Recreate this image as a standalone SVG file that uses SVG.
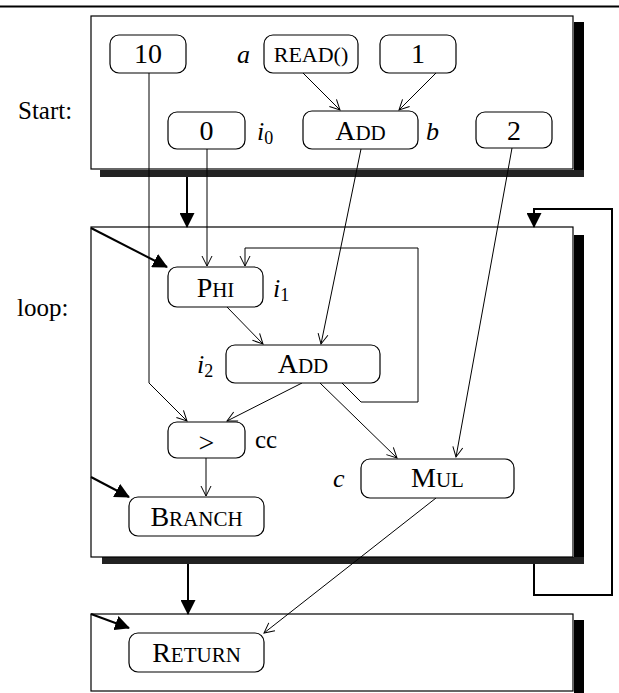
<svg xmlns="http://www.w3.org/2000/svg" width="619" height="693" viewBox="0 0 619 693">
<style>
  text { font-family: "Liberation Serif", "Times New Roman", serif; fill: #000; }
  .blk { fill: #fff; stroke: #000; stroke-width: 1.2; }
  .shR { fill: #000; }
  .shB { fill: #222; }
  .node rect { fill: #fff; stroke: #000; stroke-width: 1.2; }
  .nt { font-size: 28px; text-anchor: middle; }
  .big { font-size: 28px; }
  .sm { font-size: 21px; }
  .lab { font-size: 26px; font-style: italic; }
  .sub { font-size: 18px; font-style: normal; }
  .blab { font-size: 25px; }
  .e { fill: none; stroke: #000; stroke-width: 1; marker-end: url(#open); }
  .c { fill: none; stroke: #000; stroke-width: 2; marker-end: url(#fill); }
</style>
<defs>
  <marker id="open" markerUnits="userSpaceOnUse" viewBox="0 0 12 12" refX="11" refY="6" markerWidth="12" markerHeight="12" orient="auto">
    <path d="M1,1 L11,6 L1,11" fill="none" stroke="#000" stroke-width="1"/>
  </marker>
  <marker id="fill" markerUnits="userSpaceOnUse" viewBox="0 0 15 15" refX="14" refY="7.5" markerWidth="15" markerHeight="15" orient="auto">
    <path d="M0,0 L15,7.5 L0,15 z" fill="#000"/>
  </marker>
</defs>
<rect width="619" height="693" fill="#fff"/>
<line x1="0" y1="6.5" x2="619" y2="6.5" stroke="#000" stroke-width="1.8"/>

<g id="block-start">
  <rect class="shR" x="574" y="22" width="10" height="155"/>
  <rect class="shB" x="100" y="170" width="484" height="7"/>
  <rect class="blk" x="91" y="16" width="482" height="153"/>
  <text class="blab" x="18" y="119">Start:</text>
</g>
<g id="block-loop">
  <rect class="shR" x="574" y="235" width="10" height="329"/>
  <rect class="shB" x="102" y="557" width="482" height="7"/>
  <rect class="blk" x="91" y="227" width="482" height="330"/>
  <text class="blab" x="17" y="316">loop:</text>
</g>
<g id="block-return">
  <rect class="shR" x="574" y="620" width="10" height="73"/>
  <rect class="blk" x="91" y="614" width="482" height="77"/>
</g>

<g id="connectors">
  <path class="e" d="M303,73 L340,110"/>
  <path class="e" d="M436,73 L399,110"/>
  <path class="e" d="M149,73 L149,383 L187,421"/>
  <path class="e" d="M207,149 L207,266"/>
  <path class="e" d="M361,149 L321,344"/>
  <path class="e" d="M512,148 L456,457"/>
  <path class="e" d="M227,307 L263,344"/>
  <path class="e" d="M342,383 L361,402 L418,402 L418,248 L245,248 L245,266"/>
  <path class="e" d="M302,383 L227,421"/>
  <path class="e" d="M320,383 L397,458"/>
  <path class="e" d="M206,458 L206,496"/>
  <path class="e" d="M436,498 L264,633"/>
  <path class="c" d="M187,177 L187,227"/>
  <path class="c" d="M91,228 L167,267"/>
  <path class="c" d="M91,477 L129,497"/>
  <path class="c" d="M188,564 L188,614"/>
  <path class="c" d="M91,614 L129,628"/>
  <path class="c" d="M534,564 L534,595 L612,595 L612,209 L534,209 L534,227"/>
</g>

<g id="n10" class="node"><rect x="110" y="35" width="76" height="38" rx="9"/><text class="nt" x="148" y="63">10</text></g>
<g id="nread" class="node"><rect x="264" y="35" width="94" height="38" rx="9"/><text class="nt" x="311" y="62" style="font-size:22px">READ()</text></g>
<g id="n1" class="node"><rect x="380" y="35" width="76" height="38" rx="9"/><text class="nt" x="418" y="63">1</text></g>
<g id="n0" class="node"><rect x="168" y="112" width="77" height="37" rx="9"/><text class="nt" x="206.5" y="140">0</text></g>
<g id="nadd1" class="node"><rect x="303" y="111" width="115" height="38" rx="9"/><text class="nt" x="360.5" y="140"><tspan class="big">A</tspan><tspan class="sm">DD</tspan></text></g>
<g id="n2" class="node"><rect x="476" y="112" width="76" height="36" rx="9"/><text class="nt" x="514" y="140">2</text></g>
<g id="nphi" class="node"><rect x="168" y="267" width="95" height="40" rx="9"/><text class="nt" x="215.5" y="297"><tspan class="big">P</tspan><tspan class="sm">HI</tspan></text></g>
<g id="nadd2" class="node"><rect x="226" y="345" width="154" height="38" rx="9"/><text class="nt" x="303" y="373"><tspan class="big">A</tspan><tspan class="sm">DD</tspan></text></g>
<g id="ngt" class="node"><rect x="168" y="422" width="77" height="36" rx="9"/><text class="nt" x="206.5" y="452">&gt;</text></g>
<g id="nmul" class="node"><rect x="361" y="459" width="153" height="39" rx="9"/><text class="nt" x="437.5" y="487"><tspan class="big">M</tspan><tspan class="sm">UL</tspan></text></g>
<g id="nbranch" class="node"><rect x="129" y="497" width="135" height="39" rx="9"/><text class="nt" x="196.5" y="526"><tspan class="big">B</tspan><tspan class="sm">RANCH</tspan></text></g>
<g id="nreturn" class="node"><rect x="129" y="633" width="135" height="39" rx="9"/><text class="nt" x="196.5" y="662"><tspan class="big">R</tspan><tspan class="sm">ETURN</tspan></text></g>

<g id="labels">
  <text class="lab" x="237" y="63">a</text>
  <text class="lab" x="257" y="140">i<tspan class="sub" dy="4">0</tspan></text>
  <text class="lab" x="426" y="140">b</text>
  <text class="lab" x="273" y="297">i<tspan class="sub" dy="4">1</tspan></text>
  <text class="lab" x="197" y="373">i<tspan class="sub" dy="4">2</tspan></text>
  <text class="blab" x="255" y="448">cc</text>
  <text class="lab" x="333" y="487">c</text>
</g>
</svg>
